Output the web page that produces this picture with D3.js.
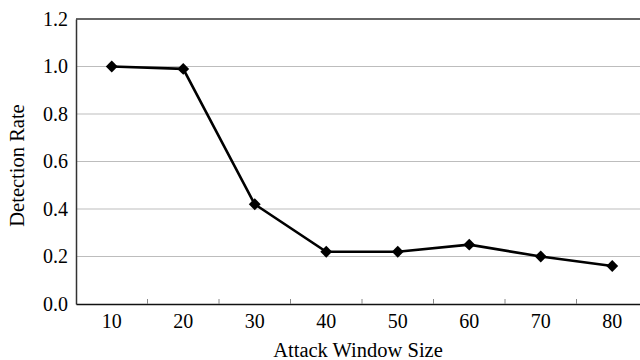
<!DOCTYPE html>
<html><head><meta charset="utf-8">
<script src="https://cdn.jsdelivr.net/npm/d3@7"></script>
<style>
body{margin:0;background:#fff;}
svg{display:block;font-family:"Liberation Serif","Times New Roman",serif;}
</style></head>
<body><svg id="c" width="640" height="360"></svg>
<script>
const categories = ["10","20","30","40","50","60","70","80"];
const detectionRate = [1.0, 0.99, 0.42, 0.22, 0.22, 0.25, 0.20, 0.16];
const yTicks = [0.0, 0.2, 0.4, 0.6, 0.8, 1.0, 1.2];

const svg = d3.select("#c");
const L = 76, R = 648, T = 19, B = 304;
const x = d3.scaleBand().domain(categories).range([L, R]).padding(0);
const y = d3.scaleLinear().domain([0, 1.2]).range([B, T]);

// gridlines
svg.append("g").selectAll("line").data(yTicks.filter(d => d > 0 && d < 1.2)).join("line")
  .attr("x1", L).attr("x2", 640).attr("y1", d => y(d)).attr("y2", d => y(d))
  .attr("stroke", "#bdbdbd").attr("stroke-width", 1);

// top border
svg.append("line").attr("x1", L).attr("x2", 640).attr("y1", y(1.2)).attr("y2", y(1.2))
  .attr("stroke", "#333").attr("stroke-width", 1.5);

// y axis
const yAxis = d3.axisLeft(y).tickValues(yTicks).tickFormat(d3.format(".1f")).tickSize(0).tickPadding(8);
const gy = svg.append("g").attr("transform", `translate(${L},0)`).call(yAxis);
gy.attr("font-family", "Liberation Serif").attr("font-size", 20);
gy.select(".domain").attr("stroke", "#333").attr("stroke-width", 1.5);
gy.selectAll("text").attr("fill", "#000");

// x axis
const xAxis = d3.axisBottom(x).tickSize(0).tickPadding(10);
const gx = svg.append("g").attr("transform", `translate(0,${B})`).call(xAxis);
gx.attr("font-family", "Liberation Serif").attr("font-size", 20);
gx.select(".domain").attr("stroke", "#111").attr("stroke-width", 1.5);
gx.selectAll("text").attr("fill", "#000");
// inner tick marks between categories
svg.append("g").selectAll("line").data(categories.slice(1)).join("line")
  .attr("x1", d => x(d)).attr("x2", d => x(d)).attr("y1", B).attr("y2", B - 5)
  .attr("stroke", "#888").attr("stroke-width", 1);

// line
const cx = (d, i) => x(categories[i]) + x.bandwidth() / 2;
svg.append("path").datum(detectionRate)
  .attr("d", d3.line().x(cx).y(d => y(d)))
  .attr("fill", "none").attr("stroke", "#000").attr("stroke-width", 2.6);

// markers
const diamond = d3.symbol().type(d3.symbolDiamond2).size(90);
svg.append("g").selectAll("path").data(detectionRate).join("path")
  .attr("transform", (d, i) => `translate(${cx(d, i)},${y(d)})`)
  .attr("d", diamond).attr("fill", "#000");

// axis titles
svg.append("text").attr("x", 358).attr("y", 357).attr("text-anchor", "middle")
  .attr("font-size", 20.5).text("Attack Window Size");
svg.append("text").attr("transform", `translate(24,${(T + B) / 2 + 4}) rotate(-90)`)
  .attr("text-anchor", "middle").attr("font-size", 20.5).text("Detection Rate");
</script></body></html>
